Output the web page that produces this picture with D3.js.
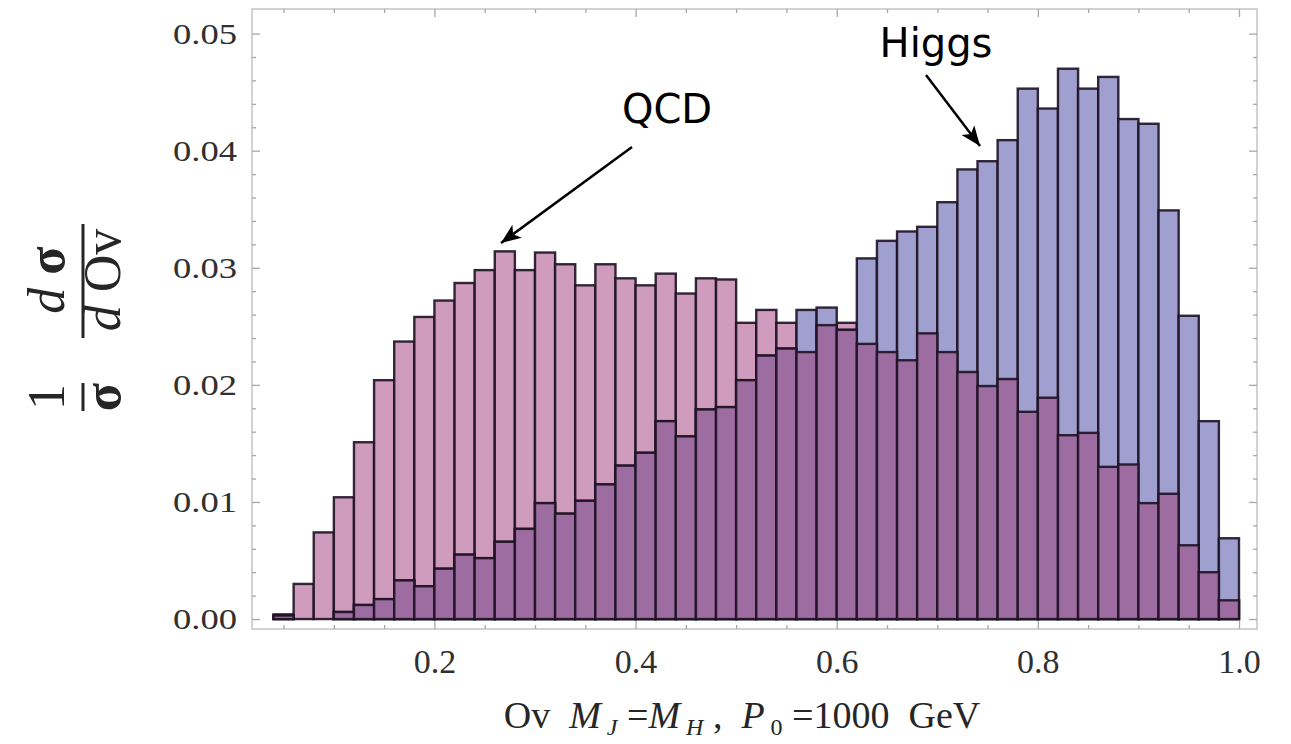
<!DOCTYPE html>
<html>
<head>
<meta charset="utf-8">
<script src="https://cdn.jsdelivr.net/npm/d3@7"></script>
<style>
  body { margin: 0; background: #fff; }
  svg { display: block; }
</style>
</head>
<body>
<svg width="1291" height="744"></svg>
<script>
// bin left edges (width 0.02)
var binLeft = [0.04, 0.06, 0.08, 0.10, 0.12, 0.14, 0.16, 0.18, 0.20, 0.22,
               0.24, 0.26, 0.28, 0.30, 0.32, 0.34, 0.36, 0.38, 0.40, 0.42,
               0.44, 0.46, 0.48, 0.50, 0.52, 0.54, 0.56, 0.58, 0.60, 0.62,
               0.64, 0.66, 0.68, 0.70, 0.72, 0.74, 0.76, 0.78, 0.80, 0.82,
               0.84, 0.86, 0.88, 0.90, 0.92, 0.94, 0.96, 0.98]
var binWidth = 0.02

var qcd = [0.0004, 0.0030, 0.0074, 0.0104, 0.0151, 0.0204, 0.0237, 0.0258, 0.0272, 0.0287,
           0.0298, 0.0314, 0.0298, 0.0313, 0.0303, 0.0285, 0.0303, 0.0291, 0.0285, 0.0295,
           0.0278, 0.0291, 0.0290, 0.0253, 0.0264, 0.0253, 0.0228, 0.0251, 0.0253, 0.0235,
           0.0228, 0.0221, 0.0244, 0.0228, 0.0211, 0.0199, 0.0205, 0.0177, 0.0189, 0.0157,
           0.0159, 0.0130, 0.0132, 0.0099, 0.0107, 0.0063, 0.0040, 0.0016]

var higgs = [0.0003, 0, 0, 0.0006, 0.0012, 0.0017, 0.0033, 0.0028, 0.0043, 0.0055,
             0.0052, 0.0066, 0.0077, 0.0099, 0.0090, 0.0101, 0.0115, 0.0131, 0.0142, 0.0169,
             0.0156, 0.0179, 0.0181, 0.0204, 0.0225, 0.0231, 0.0264, 0.0266, 0.0247, 0.0308,
             0.0323, 0.0331, 0.0335, 0.0356, 0.0384, 0.0391, 0.0409, 0.0453, 0.0436, 0.0470,
             0.0453, 0.0463, 0.0427, 0.0423, 0.0349, 0.0259, 0.0169, 0.0069]

var xMajor = [0.2, 0.4, 0.6, 0.8, 1.0]
var xMinor = [0.05, 0.1, 0.15, 0.25, 0.3, 0.35, 0.45, 0.5, 0.55, 0.65, 0.7, 0.75, 0.85, 0.9, 0.95]
var yMajor = [0, 0.01, 0.02, 0.03, 0.04, 0.05]
var yMinor = [0.002, 0.004, 0.006, 0.008, 0.012, 0.014, 0.016, 0.018, 0.022, 0.024, 0.026, 0.028,
              0.032, 0.034, 0.036, 0.038, 0.042, 0.044, 0.046, 0.048]

var frameL = 252, frameR = 1257, frameT = 9, frameB = 629
var svg = d3.select('svg')

var x = d3.scaleLinear().domain([0.0186, 1.0179]).range([frameL, frameR])
var y = d3.scaleLinear().domain([-0.00085, 0.0521]).range([frameB, frameT])

var frameColor = '#c4c4c4'
var tickColor = '#a8a8a8'

// frame
svg.append('rect')
    .attr('x', frameL).attr('y', frameT)
    .attr('width', frameR - frameL).attr('height', frameB - frameT)
    .attr('fill', 'none')
    .attr('stroke', frameColor)
    .attr('stroke-width', 1.5)

// bars
var bins = binLeft.map(function (b, i) {
    return { x0: b, q: qcd[i], h: higgs[i], o: Math.min(qcd[i], higgs[i]) }
})
var edge = 'rgba(30,18,36,0.9)'

function drawBars(key, fill) {
    svg.append('g').selectAll('rect')
        .data(bins.filter(function (d) { return d[key] > 0 }))
        .enter().append('rect')
        .attr('x', function (d) { return x(d.x0) })
        .attr('width', function (d) { return x(d.x0 + binWidth) - x(d.x0) })
        .attr('y', function (d) { return y(d[key]) })
        .attr('height', function (d) { return y(0) - y(d[key]) })
        .attr('fill', fill)
        .attr('stroke', edge)
        .attr('stroke-width', 2.4)
}
drawBars('q', '#d09cbd')
drawBars('h', '#a0a0d0')
drawBars('o', '#9d6ca1')

// ticks
function ticksOnly(axis, vals, size, tr) {
    svg.append('g').attr('transform', tr)
        .call(axis.tickValues(vals).tickSize(size).tickFormat(''))
        .call(function (g) {
            g.select('.domain').remove()
            g.selectAll('line').attr('stroke', tickColor).attr('stroke-width', 1.3)
        })
}
ticksOnly(d3.axisBottom(x), xMajor, -8, 'translate(0,' + frameB + ')')
ticksOnly(d3.axisBottom(x), xMinor, -4, 'translate(0,' + frameB + ')')
ticksOnly(d3.axisTop(x), xMajor, -8, 'translate(0,' + frameT + ')')
ticksOnly(d3.axisTop(x), xMinor, -4, 'translate(0,' + frameT + ')')
ticksOnly(d3.axisLeft(y), yMajor, -8, 'translate(' + frameL + ',0)')
ticksOnly(d3.axisLeft(y), yMinor, -4, 'translate(' + frameL + ',0)')
ticksOnly(d3.axisRight(y), yMajor, -8, 'translate(' + frameR + ',0)')
ticksOnly(d3.axisRight(y), yMinor, -4, 'translate(' + frameR + ',0)')

// tick labels
svg.append('g').attr('transform', 'translate(0,' + frameB + ')')
    .call(d3.axisBottom(x).tickValues(xMajor).tickSize(0).tickPadding(20).tickFormat(d3.format('.1f')))
    .call(function (g) {
        g.select('.domain').remove()
        g.selectAll('text')
            .attr('fill', '#303030')
            .attr('font-family', 'Liberation Serif')
            .attr('font-size', 34)
    })

svg.append('g').attr('transform', 'translate(' + frameL + ',0)')
    .call(d3.axisLeft(y).tickValues(yMajor).tickSize(0).tickPadding(15).tickFormat(d3.format('.2f')))
    .call(function (g) {
        g.select('.domain').remove()
        g.selectAll('text')
            .attr('fill', '#303030')
            .attr('font-family', 'Liberation Serif')
            .attr('font-size', 30)
            .attr('textLength', 64)
            .attr('lengthAdjust', 'spacingAndGlyphs')
    })

// x axis title
var xt = svg.append('text')
    .attr('x', 742).attr('y', 728)
    .attr('text-anchor', 'middle')
    .attr('font-family', 'Liberation Serif')
    .attr('font-size', 38)
    .attr('fill', '#262626')
    .attr('xml:space', 'preserve')
xt.append('tspan').text('Ov  ')
xt.append('tspan').attr('font-style', 'italic').text('M')
xt.append('tspan').attr('font-style', 'italic').attr('font-size', 24).attr('dy', 7).text(' J')
xt.append('tspan').attr('dy', -7).text(' =')
xt.append('tspan').attr('font-style', 'italic').text('M')
xt.append('tspan').attr('font-style', 'italic').attr('font-size', 24).attr('dy', 7).text(' H')
xt.append('tspan').attr('dy', -7).text(' ,  ')
xt.append('tspan').attr('font-style', 'italic').text('P')
xt.append('tspan').attr('font-size', 24).attr('dy', 7).text(' 0')
xt.append('tspan').attr('dy', -7).text(' =1000  GeV')

// y axis title, rotated fraction
var yt = svg.append('g')
    .attr('transform', 'translate(83,320) rotate(-90)')
    .attr('font-family', 'Liberation Serif')
    .attr('font-size', 52)
    .attr('fill', '#262626')
    .attr('text-anchor', 'middle')
yt.append('text').attr('x', -77).attr('y', -19).text('1')
yt.append('text').attr('x', -77).attr('y', 37).attr('font-weight', 'bold').text('σ')
yt.append('line').attr('x1', -91).attr('x2', -63).attr('y1', 0).attr('y2', 0)
    .attr('stroke', '#262626').attr('stroke-width', 3)
var num = yt.append('text').attr('x', 40).attr('y', -19).attr('xml:space', 'preserve')
num.append('tspan').attr('font-style', 'italic').text('d ')
num.append('tspan').attr('font-weight', 'bold').text('σ')
var den = yt.append('text').attr('x', 40).attr('y', 37).attr('xml:space', 'preserve')
den.append('tspan').attr('font-style', 'italic').text('d ')
den.append('tspan').text('Ov')
yt.append('line').attr('x1', -18).attr('x2', 96).attr('y1', 0).attr('y2', 0)
    .attr('stroke', '#262626').attr('stroke-width', 3)

// annotations
svg.append('defs').append('marker')
    .attr('id', 'head')
    .attr('viewBox', '-22 -10 24 20')
    .attr('refX', 0).attr('refY', 0)
    .attr('markerWidth', 24).attr('markerHeight', 20)
    .attr('markerUnits', 'userSpaceOnUse')
    .attr('orient', 'auto')
    .append('path')
    .attr('d', 'M0,0 L-20,-8 L-15,0 L-20,8 Z')
    .attr('fill', '#000')

var notes = [
    { text: 'QCD', tx: 667, ty: 123, x1: 632, y1: 147, x2: 501, y2: 243 },
    { text: 'Higgs', tx: 936, ty: 57, x1: 926, y1: 75, x2: 980, y2: 146 }
]
notes.forEach(function (n) {
    svg.append('text')
        .attr('x', n.tx).attr('y', n.ty)
        .attr('text-anchor', 'middle')
        .attr('font-family', 'DejaVu Sans')
        .attr('font-size', 40)
        .attr('fill', '#000')
        .text(n.text)
    svg.append('line')
        .attr('x1', n.x1).attr('y1', n.y1)
        .attr('x2', n.x2).attr('y2', n.y2)
        .attr('stroke', '#000')
        .attr('stroke-width', 2.5)
        .attr('marker-end', 'url(#head)')
})
</script>
</body>
</html>
